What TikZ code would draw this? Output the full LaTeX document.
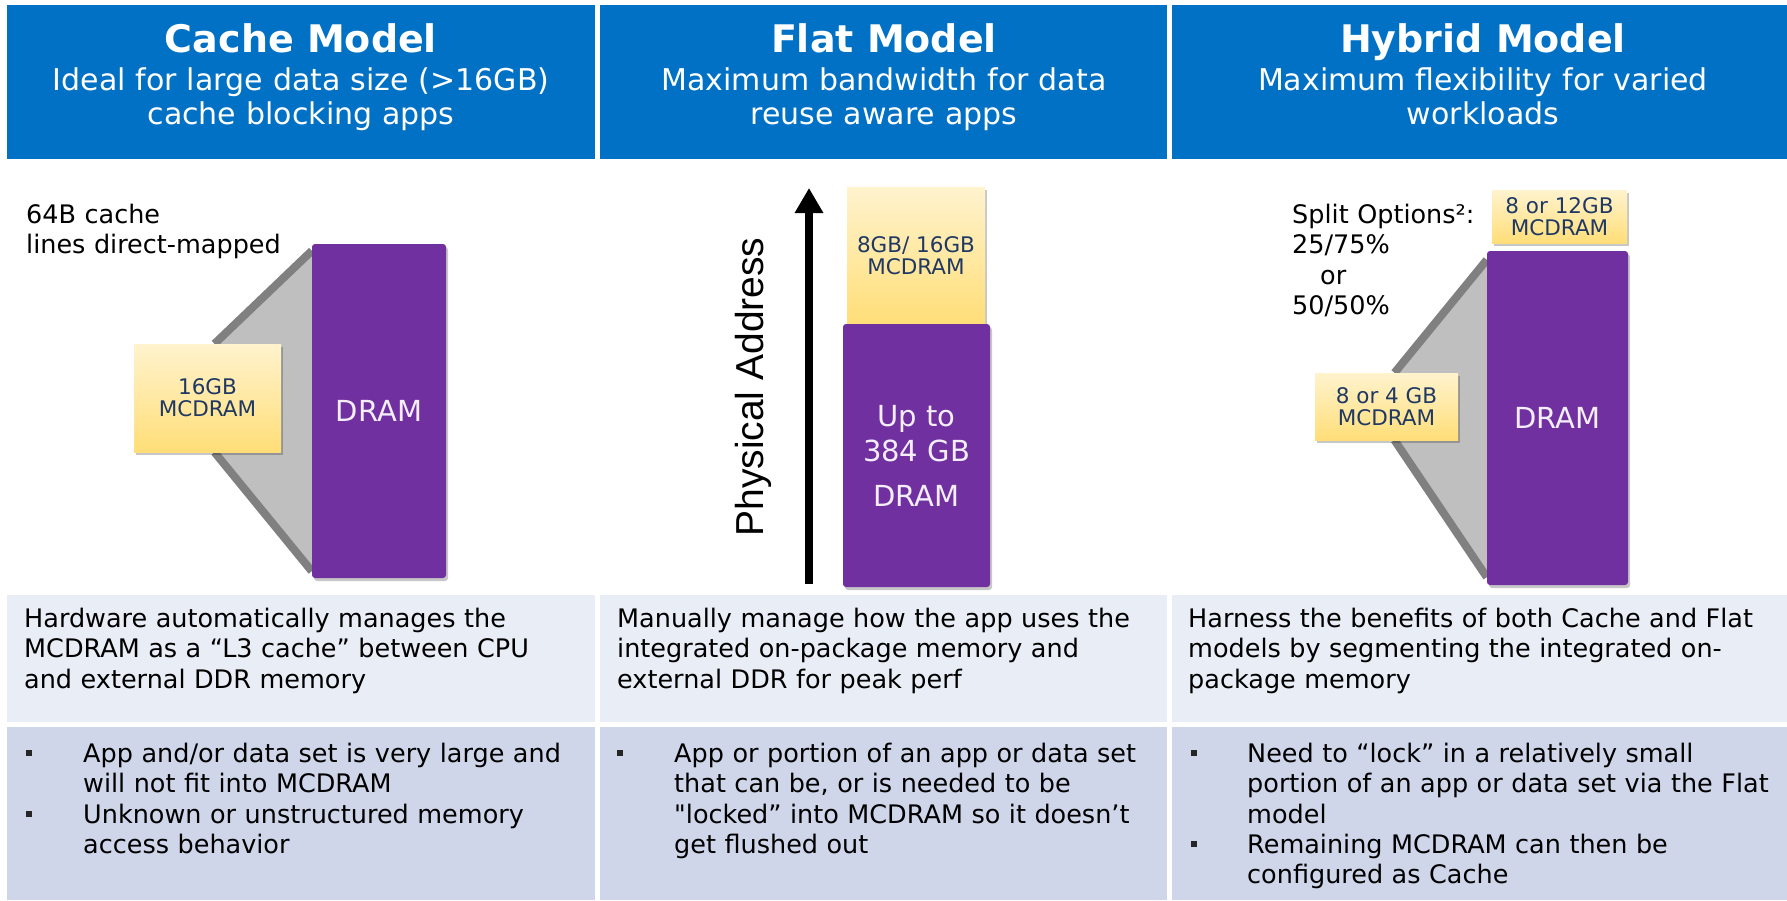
\documentclass[tikz,border=0pt]{standalone}
\usepackage{fontspec}
\setmainfont{DejaVu Sans}
\newfontfamily\addrfont{Liberation Sans}
\usetikzlibrary{positioning}
\usetikzlibrary{arrows.meta}
\usetikzlibrary{shadows}
\usetikzlibrary{backgrounds}

\definecolor{hdrblue}{RGB}{0,113,197}
\definecolor{drampurple}{RGB}{112,48,160}
\definecolor{dramtext}{RGB}{243,238,250}
\definecolor{mcdtop}{RGB}{255,243,206}
\definecolor{mcdbot}{RGB}{255,222,120}
\definecolor{mcdtext}{RGB}{31,56,100}
\definecolor{descfill}{RGB}{233,237,246}
\definecolor{bulletfill}{RGB}{207,214,234}
\definecolor{funnelgray}{RGB}{191,191,191}
\definecolor{funneldark}{RGB}{128,128,128}

\begin{document}
\begin{tikzpicture}[x=1pt, y=-1pt,
  cell/.style={rectangle, inner sep=0pt, outer sep=0pt},
  hdr/.style={cell, fill=hdrblue, minimum height=154pt},
  descbg/.style={cell, fill=descfill, minimum height=127pt},
  bulletbg/.style={cell, fill=bulletfill, minimum height=173pt},
  hdrtitle/.style={text=white, font=\bfseries\fontsize{38}{40}\selectfont, anchor=base, inner sep=0pt},
  hdrsub/.style={text=white, font=\fontsize{30}{34}\selectfont, align=center, text width=580pt, anchor=base, inner sep=0pt},
  bodytext/.style={font=\fontsize{25.5}{30.5}\selectfont, align=left, anchor=base west, inner sep=0pt},
  bulletmark/.style={fill=black!85, minimum size=6pt, inner sep=0pt},
  boxshadow/.style={drop shadow={shadow xshift=2pt, shadow yshift=-3pt, opacity=0.22, fill=black}},
  mcdram/.style={boxshadow, top color=mcdtop, bottom color=mcdbot, text=mcdtext, align=center,
    font=\fontsize{21.5}{22}\selectfont, inner sep=0pt},
  dram/.style={boxshadow, fill=drampurple, rounded corners=3pt, text=dramtext, align=center,
    font=\fontsize{29}{35}\selectfont, inner sep=0pt},
  funnelfill/.style={fill=funnelgray},
  funneledge/.style={draw=funneldark, line width=8pt},
  addrarrow/.style={line width=7.5pt, -{Triangle[width=27pt, length=25pt]}},
]
\useasboundingbox (0,0) rectangle (1787,900);

% table cells
\node[hdr, minimum width=588pt] (hcache) at (301,82) {};
\node[hdr, minimum width=567pt] (hflat) at (883.5,82) {};
\node[hdr, minimum width=615pt] (hhybrid) at (1479.5,82) {};
\node[descbg, minimum width=588pt] (dcache) at (301,658.5) {};
\node[descbg, minimum width=567pt] (dflat) at (883.5,658.5) {};
\node[descbg, minimum width=615pt] (dhybrid) at (1479.5,658.5) {};
\node[bulletbg, minimum width=588pt] (bcache) at (301,813.5) {};
\node[bulletbg, minimum width=567pt] (bflat) at (883.5,813.5) {};
\node[bulletbg, minimum width=615pt] (bhybrid) at (1479.5,813.5) {};

% headings
\node[hdrtitle] (tcache) at (301,52) {Cache Model};
\node[hdrsub] (scache) at (301,90) {Ideal for large data size (>16GB)\\cache blocking apps};
\node[hdrtitle] (tflat) at (884,52) {Flat Model};
\node[hdrsub] (sflat) at (884,90) {Maximum bandwidth for data\\reuse aware apps};
\node[hdrtitle] (thybrid) at (1483,52) {Hybrid Model};
\node[hdrsub] (shybrid) at (1483,90) {Maximum flexibility for varied\\workloads};

% cache model
\node[bodytext, text width=300pt] (cachenote) at (26,223) {64B cache\\lines direct-mapped};
\node[dram, minimum width=134pt, minimum height=334pt] (cdram) at (379,411) {DRAM};
\node[mcdram, minimum width=147pt, minimum height=108pt] (cmcd) at (207.5,398) {16GB\\MCDRAM};
\begin{scope}[on background layer]
  \fill[funnelfill] ([xshift=7pt]cmcd.north) -- ([yshift=-7pt]cdram.north west)
    -- ([yshift=7pt]cdram.south west) -- ([xshift=7pt]cmcd.south) -- cycle;
  \draw[funneledge] ([xshift=7pt]cmcd.north) -- ([yshift=-7pt]cdram.north west);
  \draw[funneledge] ([xshift=7pt]cmcd.south) -- ([yshift=7pt]cdram.south west);
\end{scope}

% flat model
\coordinate (addrlow) at (809,584);
\coordinate (addrhigh) at (809,188);
\draw[addrarrow] (addrlow) -- (addrhigh);
\node[rotate=90, inner sep=0pt, font=\addrfont\fontsize{39}{42}\selectfont] (addrlabel) at (753,387) {Physical Address};
\node[mcdram, minimum width=138pt, minimum height=137pt] (fmcd) at (916,255.5) {8GB/ 16GB\\MCDRAM};
\node[dram, minimum width=147pt, minimum height=263pt] (fdram) at (916.5,455.5) {Up to\\384 GB\\[10pt]DRAM};

% hybrid model
\node[bodytext, text width=200pt] (splitnote) at (1292,223) {Split Options²:\\25/75\%\\\hspace*{28pt}or\\50/50\%};
\node[dram, minimum width=141pt, minimum height=334pt] (hdram) at (1557.5,418) {DRAM};
\node[mcdram, minimum width=143pt, minimum height=67pt] (hmcd) at (1386.5,406.5) {8 or 4 GB\\MCDRAM};
\node[mcdram, minimum width=135pt, minimum height=53pt] (htop) at (1559.5,216.5) {8 or 12GB\\MCDRAM};
\begin{scope}[on background layer]
  \fill[funnelfill] ([xshift=8pt]hmcd.north) -- ([yshift=-9pt]hdram.north west)
    -- ([yshift=8pt]hdram.south west) -- ([xshift=8pt]hmcd.south) -- cycle;
  \draw[funneledge] ([xshift=8pt]hmcd.north) -- ([yshift=-9pt]hdram.north west);
  \draw[funneledge] ([xshift=8pt]hmcd.south) -- ([yshift=8pt]hdram.south west);
\end{scope}

% descriptions
\node[bodytext, text width=565pt] (dcachetxt) at (24,627) {Hardware automatically manages the\\MCDRAM as a “L3 cache” between CPU\\and external DDR memory};
\node[bodytext, text width=545pt] (dflattxt) at (617,627) {Manually manage how the app uses the\\integrated on-package memory and\\external DDR for peak perf};
\node[bodytext, text width=595pt] (dhybridtxt) at (1188,627) {Harness the benefits of both Cache and Flat\\models by segmenting the integrated on-\\package memory};

% use cases
\node[bulletmark] (mcache1) at (29,753) {};
\node[bodytext, text width=505pt] (bcache1) at (83,762) {App and/or data set is very large and\\will not fit into MCDRAM};
\node[bulletmark] (mcache2) at (29,814) {};
\node[bodytext, text width=505pt] (bcache2) at (83,823) {Unknown or unstructured memory\\access behavior};
\node[bulletmark] (mflat1) at (620,753) {};
\node[bodytext, text width=490pt] (bflat1) at (674,762) {App or portion of an app or data set\\that can be, or is needed to be\\\textquotedbl locked” into MCDRAM so it doesn’t\\get flushed out};
\node[bulletmark] (mhybrid1) at (1194,753) {};
\node[bodytext, text width=538pt] (bhybrid1) at (1247,762) {Need to “lock” in a relatively small\\portion of an app or data set via the Flat\\model};
\node[bulletmark] (mhybrid2) at (1194,844) {};
\node[bodytext, text width=538pt] (bhybrid2) at (1247,853) {Remaining MCDRAM can then be\\configured as Cache};
\end{tikzpicture}
\end{document}
